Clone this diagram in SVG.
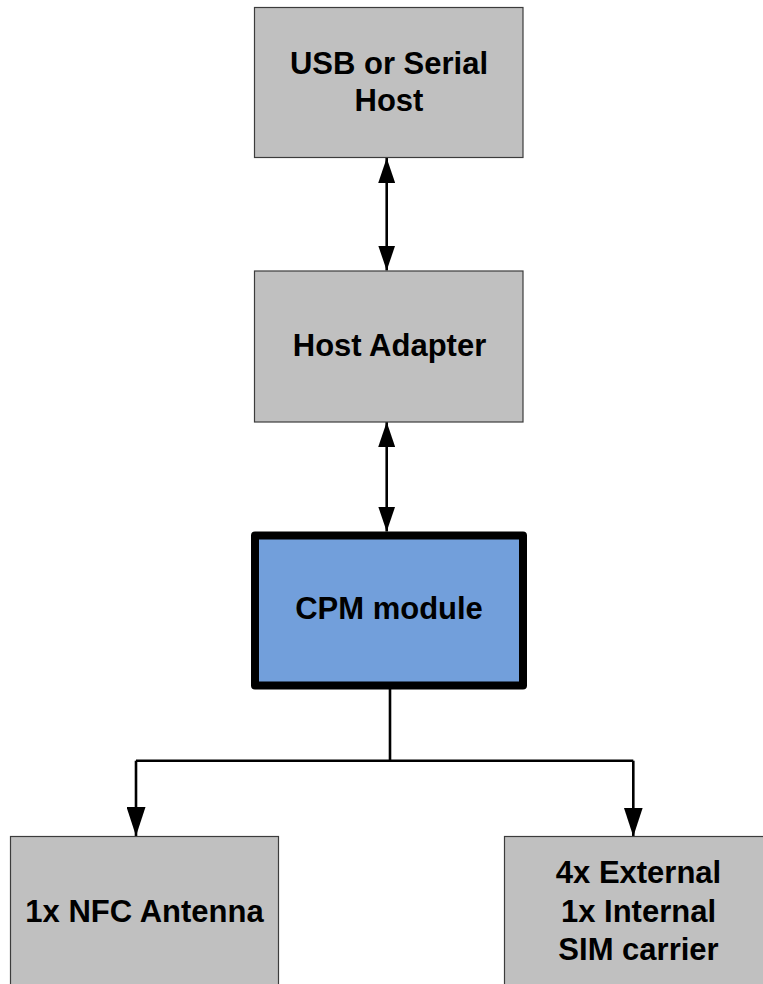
<svg xmlns="http://www.w3.org/2000/svg" width="763" height="984" viewBox="0 0 763 984">
<style>
.box{fill:#c0c0c0;stroke:#3c3c3c;stroke-width:1.2}
.cpm{fill:#729fdb;stroke:#000;stroke-width:8;stroke-linejoin:round}
.t{font-family:"Liberation Sans",Arial,sans-serif;font-weight:bold;font-size:31px;fill:#000;text-anchor:middle}
.ln{fill:none;stroke:#000;stroke-width:2.6}
</style>
<defs>
<marker id="ah" viewBox="0 0 25 17" refX="25" refY="8.5" markerWidth="25" markerHeight="17" markerUnits="userSpaceOnUse" orient="auto-start-reverse">
<path d="M0,0 L25,8.5 L0,17 Z" fill="#000"/>
</marker>
<marker id="ahb" viewBox="0 0 29 19" refX="29" refY="9.5" markerWidth="29" markerHeight="19" markerUnits="userSpaceOnUse" orient="auto">
<path d="M0,0 L29,9.5 L0,19 Z" fill="#000"/>
</marker>
</defs>
<g id="connectors">
<line class="ln" x1="386.7" y1="158" x2="386.7" y2="270.5" marker-start="url(#ah)" marker-end="url(#ah)"/>
<line class="ln" x1="386.7" y1="422" x2="386.7" y2="531.5" marker-start="url(#ah)" marker-end="url(#ah)"/>
<path class="ln" d="M390,689 V760.7 M136,760.7 H633.3"/>
<path class="ln" d="M136,760.7 V836" marker-end="url(#ahb)"/>
<path class="ln" d="M633.3,760.7 V836.5" marker-end="url(#ahb)"/>
</g>
<g id="usb-host">
<rect class="box" x="254.5" y="7.5" width="268.5" height="150"/>
<text class="t" x="389" y="74">USB or Serial</text>
<text class="t" x="389" y="111">Host</text>
</g>
<g id="host-adapter">
<rect class="box" x="254.5" y="271" width="268.5" height="151"/>
<text class="t" x="389.5" y="356">Host Adapter</text>
</g>
<g id="cpm-module">
<rect class="cpm" x="255" y="535.5" width="268" height="150"/>
<text class="t" x="389" y="619">CPM module</text>
</g>
<g id="nfc-antenna">
<rect class="box" x="10.5" y="836.5" width="268" height="150"/>
<text class="t" x="144.5" y="921.5">1x NFC Antenna</text>
</g>
<g id="sim-carrier">
<rect class="box" x="504.5" y="836.5" width="268" height="150"/>
<text class="t" x="638.5" y="883">4x External</text>
<text class="t" x="638.5" y="922">1x Internal</text>
<text class="t" x="638.5" y="960">SIM carrier</text>
</g>
</svg>
